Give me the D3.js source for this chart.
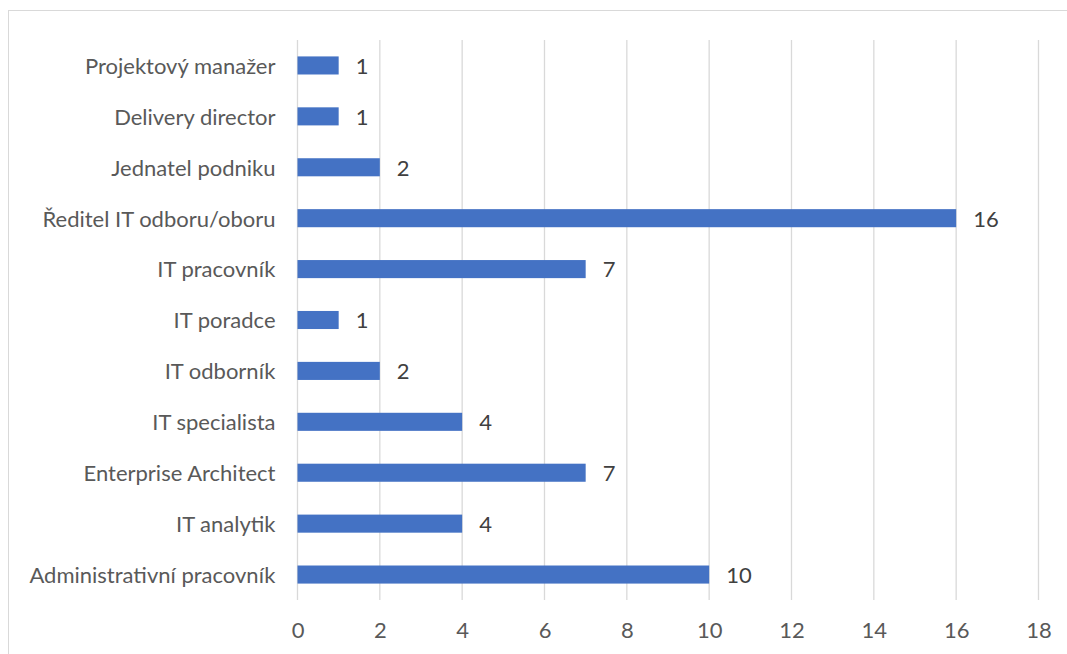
<!DOCTYPE html>
<html>
<head>
<meta charset="utf-8">
<script src="https://cdn.jsdelivr.net/npm/d3@7"></script>
<style>
  html, body { margin: 0; padding: 0; background: #fff; }
  svg { display: block; }
  text { font-family: Lato, "Open Sans", sans-serif; fill: #595959; }
</style>
</head>
<body>
<svg id="chart" width="1067" height="654"></svg>
<script>
// Job roles, listed top to bottom
const categories = [
  "Projektový manažer",
  "Delivery director",
  "Jednatel podniku",
  "Ředitel IT odboru/oboru",
  "IT pracovník",
  "IT poradce ",
  "IT odborník",
  "IT specialista",
  "Enterprise Architect",
  "IT analytik",
  "Administrativní pracovník"
];
const values = [1, 1, 2, 16, 7, 1, 2, 4, 7, 4, 10];
const tickValues = [0, 2, 4, 6, 8, 10, 12, 14, 16, 18];

const W = 1067, H = 654;
const margin = { left: 297.5, right: 28.5, top: 40, bottom: 54 };
const fontSize = 22;

const svg = d3.select("#chart");

// Outer chart frame
svg.append("rect")
  .attr("x", 8.5).attr("y", 10.5)
  .attr("width", W + 20).attr("height", H + 20)
  .attr("fill", "none").attr("stroke", "#d9d9d9").attr("stroke-width", 1);

const x = d3.scaleLinear().domain([0, 18]).range([margin.left, W - margin.right]);
const y = d3.scaleBand().domain(categories).range([margin.top, H - margin.bottom]).paddingInner(0.645).paddingOuter(0.3225);

// Vertical gridlines
svg.append("g")
  .selectAll("line")
  .data(tickValues)
  .join("line")
  .attr("x1", d => x(d)).attr("x2", d => x(d))
  .attr("y1", margin.top).attr("y2", H - margin.bottom)
  .attr("stroke", "#d9d9d9").attr("stroke-width", 1.3);

// Bars
svg.append("g")
  .selectAll("rect")
  .data(values)
  .join("rect")
  .attr("x", x(0))
  .attr("y", (d, i) => y(categories[i]))
  .attr("width", d => x(d) - x(0))
  .attr("height", y.bandwidth())
  .attr("fill", "#4472c4");

// Value labels
svg.append("g")
  .selectAll("text")
  .data(values)
  .join("text")
  .attr("x", d => x(d) + 17)
  .attr("y", (d, i) => y(categories[i]) + y.bandwidth() / 2)
  .attr("dy", "0.38em")
  .attr("font-size", fontSize)
  .style("fill", "#404040")
  .text(d => d);

// Category axis labels
const yAxis = d3.axisLeft(y).tickSize(0).tickPadding(22);
svg.append("g")
  .attr("transform", `translate(${x(0)},0)`)
  .call(yAxis)
  .call(g => g.select(".domain").remove())
  .call(g => g.selectAll("text").attr("font-size", fontSize).attr("font-family", null).attr("fill", null).attr("dy", "0.38em"));

// Value axis labels
const xAxis = d3.axisBottom(x).tickValues(tickValues).tickSize(0).tickPadding(22);
svg.append("g")
  .attr("transform", `translate(0,${H - margin.bottom})`)
  .call(xAxis)
  .call(g => g.select(".domain").remove())
  .call(g => g.selectAll("text").attr("font-size", fontSize).attr("font-family", null).attr("fill", null));
</script>
</body>
</html>
